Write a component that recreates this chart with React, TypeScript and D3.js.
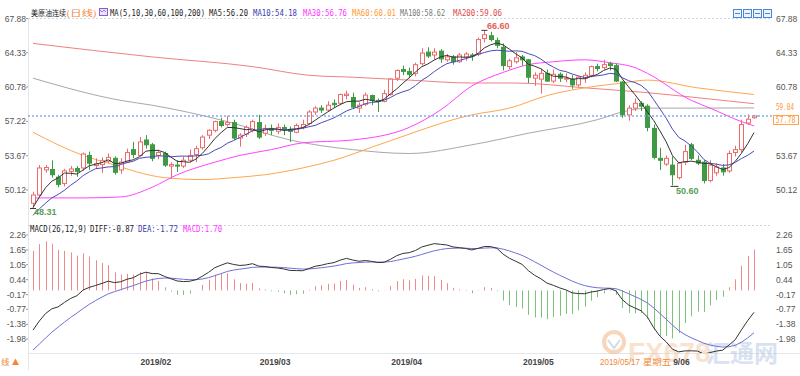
import React from 'react';
import * as d3 from 'd3';

// ---------- candle data (美原油连续, daily) ----------
const opens = [
  48.75, 49.6, 52.2, 52.25, 51.45, 50.8, 52.05, 52.35, 52.4, 53.7,
  52.65, 52.75, 53.1, 53.4, 52.2, 53.0, 54.3, 53.7, 55.3, 54.8,
  53.7, 53.9, 52.6, 52.7, 52.6, 53.2, 53.8, 54.5, 55.8, 56.3,
  57.2, 56.9, 57.1, 55.5, 55.9, 56.3, 57.1, 56.0, 56.5, 56.2,
  56.6, 56.4, 56.1, 56.6, 57.0, 58.2, 58.6, 58.4, 59.1, 59.1,
  59.9, 59.7, 58.6, 59.0, 59.9, 59.4, 59.3, 60.0, 61.7, 62.6,
  62.4, 62.2, 63.2, 64.4, 64.1, 64.5, 63.6, 63.9, 63.4, 63.9,
  64.1, 64.2, 65.8, 66.1, 65.6, 64.9, 62.9, 63.4, 63.9, 63.6,
  61.7, 61.6, 62.2, 61.4, 62.1, 61.6, 61.6, 61.0, 61.7, 62.0,
  62.9, 62.8, 63.2, 63.0, 61.3, 57.9, 58.6, 59.1, 58.8, 56.5,
  53.4, 52.8, 52.7, 51.4, 53.0, 54.8, 53.2, 53.0, 51.1, 51.9,
  52.4, 52.1, 54.0, 54.3, 57.05, 57.6,
];
const highs = [
  49.95, 52.7, 52.7, 53.2, 51.7, 52.3, 52.6, 52.6, 54.0, 54.1,
  53.4, 53.5, 53.9, 53.6, 53.4, 54.4, 55.1, 55.6, 55.8, 55.0,
  54.3, 54.1, 53.0, 53.2, 53.6, 54.3, 54.7, 55.8, 56.4, 57.3,
  57.6, 57.8, 57.4, 56.0, 56.8, 57.4, 57.9, 56.9, 56.9, 57.0,
  56.9, 56.7, 57.0, 57.4, 58.4, 58.8, 58.9, 59.3, 59.5, 60.1,
  60.4, 60.2, 59.2, 60.2, 60.0, 59.6, 60.5, 61.7, 62.6, 63.0,
  62.8, 63.3, 64.8, 64.9, 64.8, 64.7, 64.2, 64.1, 64.3, 64.4,
  64.3, 65.9, 66.6, 66.5, 65.9, 65.3, 63.7, 64.4, 64.1, 63.7,
  62.3, 62.7, 62.6, 62.6, 62.3, 62.2, 62.0, 61.9, 62.3, 63.0,
  63.2, 63.6, 63.4, 63.2, 61.4, 58.9, 59.6, 59.3, 59.0, 56.9,
  54.5, 53.7, 53.6, 53.0, 54.8, 55.0, 53.7, 53.2, 53.2, 52.9,
  52.8, 54.2, 54.7, 57.4, 57.95, 57.9,
];
const lows = [
  48.31, 49.5, 51.9, 51.4, 50.4, 50.5, 51.6, 51.5, 52.1, 52.2,
  52.3, 51.9, 52.9, 51.7, 51.8, 52.9, 53.4, 53.6, 54.4, 53.1,
  53.3, 52.5, 51.3, 52.0, 52.4, 53.0, 53.0, 54.3, 55.4, 56.1,
  56.6, 56.7, 55.3, 54.6, 55.6, 56.1, 55.4, 55.7, 55.8, 55.9,
  55.8, 55.1, 56.0, 56.4, 56.9, 57.9, 58.1, 58.3, 58.6, 58.9,
  59.5, 58.5, 58.1, 58.8, 58.9, 58.2, 59.2, 59.9, 61.4, 62.0,
  61.7, 61.9, 63.0, 63.8, 63.6, 63.3, 63.4, 63.1, 63.3, 63.5,
  63.5, 64.0, 65.4, 65.5, 64.8, 62.5, 62.6, 63.2, 63.0, 61.2,
  60.9, 60.1, 61.3, 61.2, 61.3, 61.3, 60.6, 60.8, 61.2, 61.8,
  62.4, 62.6, 62.5, 61.3, 57.6, 57.3, 58.3, 58.3, 56.2, 53.3,
  52.2, 52.6, 50.6, 51.2, 52.7, 53.2, 52.7, 50.8, 50.9, 51.6,
  51.6, 51.9, 53.6, 54.0, 56.85, 57.5,
];
const closes = [
  49.6, 52.4, 52.45, 51.7, 50.7, 52.1, 52.3, 52.05, 53.85, 52.9,
  52.85, 53.15, 53.5, 51.95, 53.0, 54.0, 53.8, 55.1, 54.8, 53.4,
  54.0, 52.7, 52.75, 52.6, 53.2, 53.7, 54.4, 55.6, 56.3, 57.2,
  56.8, 57.1, 55.5, 55.8, 56.6, 57.2, 55.6, 56.5, 56.3, 56.6,
  56.4, 56.2, 56.8, 56.9, 58.2, 58.6, 58.4, 58.9, 58.95, 60.0,
  60.05, 58.7, 58.9, 59.95, 59.4, 59.3, 60.1, 61.6, 62.5, 62.4,
  62.1, 63.1, 64.3, 64.0, 64.4, 63.7, 63.9, 63.4, 64.1, 64.2,
  64.0, 65.7, 66.2, 65.7, 65.1, 63.0, 63.5, 63.8, 63.6, 61.8,
  62.0, 62.2, 61.4, 62.1, 61.7, 61.7, 61.0, 61.8, 62.0, 62.9,
  62.7, 63.1, 63.0, 61.4, 57.9, 58.6, 59.1, 58.8, 56.6, 53.5,
  53.2, 53.4, 51.7, 52.9, 54.1, 53.4, 52.9, 51.1, 52.7, 52.5,
  52.0, 53.9, 54.3, 56.9, 57.45, 57.78,
];
// closes just before the first visible candle (feed MA5 / MA10)
const prevCloses = [45.8, 46.5, 46.2, 47.2, 47.8, 47.0, 47.6, 48.3, 49.0];
// EMA12, EMA26, DEA state before the first visible candle
const macdSeed = [49.22, 51.0, -2.63];

// longer moving averages (candle index -> value)
const ma30Idx = [0, 8, 14, 19, 23, 29, 33, 38, 43, 51, 60, 65, 70, 75, 79, 83, 88, 92, 96, 98, 105, 108, 113, 115];
const ma30Val = [49.3, 49.3, 49.4, 50.4, 51.7, 53.0, 53.7, 54.3, 55.0, 55.3, 56.6, 58.4, 60.9, 62.3, 63.1, 63.4, 63.6, 63.3, 62.8, 62.2, 59.4, 58.6, 57.2, 56.76];
const ma60Idx = [0, 8, 12, 21, 27, 32, 37, 43, 48, 56, 70, 76, 82, 89, 94, 98, 106, 115];
const ma60Val = [56.1, 53.7, 52.9, 51.4, 51.2, 51.4, 51.7, 52.4, 53.2, 55.0, 57.9, 58.6, 59.9, 60.8, 61.2, 61.5, 60.7, 60.01];
const ma100Idx = [0, 14, 19, 31, 41, 51, 60, 70, 79, 90, 94, 98, 106, 115];
const ma100Val = [61.7, 59.4, 58.9, 57.2, 55.3, 54.3, 53.9, 54.8, 56.0, 57.4, 58.2, 58.6, 58.6, 58.62];
const ma200Idx = [0, 19, 35, 44, 51, 60, 70, 77, 88, 98, 110, 115];
const ma200Val = [65.3, 63.9, 62.9, 62.0, 61.8, 61.5, 61.2, 61.2, 60.7, 60.2, 59.4, 59.06];

// axes
const priceTicks = [67.88, 64.33, 60.78, 57.22, 53.67, 50.12];
const macdTicks = [2.26, 1.65, 1.05, 0.44, -0.17, -0.77, -1.38, -1.98];
const monthLabels = ['2019/02', '2019/03', '2019/04', '2019/05', '2019/06'];
const monthIdx = [17, 36, 57, 78, 100];
const lastPrice = 57.78;

const legendItems = [
  { t: 'MA5:56.20', x: 209, w: 39, c: '#222222' },
  { t: 'MA10:54.18', x: 253, w: 44, c: '#3a3ab0' },
  { t: 'MA30:56.76', x: 303, w: 44, c: '#ff33ff' },
  { t: 'MA60:60.01', x: 352, w: 44, c: '#ff9933' },
  { t: 'MA100:58.62', x: 400, w: 45, c: '#777777' },
  { t: 'MA200:59.06', x: 453, w: 49, c: '#e04848' },
];
const macdLegend = [
  { t: 'MACD(26,12,9)', x: 30, w: 57, c: '#222222' },
  { t: 'DIFF:-0.87', x: 90, w: 44, c: '#222222' },
  { t: 'DEA:-1.72', x: 138, w: 40, c: '#3a3ab0' },
  { t: 'MACD:1.70', x: 183, w: 39, c: '#ff33ff' },
];

const UP = '#ee6a6a';
const DOWN = '#3f9a44';

export default function App() {
  const x = d3.scaleLinear().domain([0, 115]).range([33, 754]);
  const yP = d3.scaleLinear().domain([50.12, 67.88]).range([190, 18.5]);
  const yM = d3.scaleLinear().domain([-1.98, 2.26]).range([339, 235]);

  const all = prevCloses.concat(closes);
  const off = prevCloses.length;
  const ma = (k: number) =>
    closes.map((_, i) => d3.mean(all.slice(i + off - k + 1, i + off + 1)) as number);
  const ma5 = ma(5);
  const ma10 = ma(10);

  let e12 = macdSeed[0], e26 = macdSeed[1], dea = macdSeed[2];
  const macd = closes.map((c) => {
    e12 = e12 + (2 / 13) * (c - e12);
    e26 = e26 + (2 / 27) * (c - e26);
    const diff = e12 - e26;
    dea = dea + 0.2 * (diff - dea);
    return { diff, dea, bar: 2 * (diff - dea) };
  });

  const lineP = d3.line<number>().x((_, i) => x(i)).y((v) => yP(v));
  const sampled = (idx: number[], vals: number[]) =>
    d3.line<number>().x((_, j) => x(idx[j])).y((v) => yP(v)).curve(d3.curveMonotoneX)(vals) as string;
  const lineDiff = d3.line<any>().x((_, i) => x(i)).y((d) => yM(d.diff));
  const lineDea = d3.line<any>().x((_, i) => x(i)).y((d) => yM(d.dea));

  const mono = "'DejaVu Sans Mono', 'Liberation Mono', monospace";
  const sans = "'Liberation Sans', Arial, sans-serif";
  const cjk = "'Noto Sans CJK SC', sans-serif";
  const yLast = yP(lastPrice);

  return (
    <svg width={800} height={376} style={{ position: 'absolute', left: 0, top: 0, background: '#fff' }}
      xmlns="http://www.w3.org/2000/svg">
      <defs>
        <clipPath id="pclip"><rect x={28} y={18} width={730} height={206} /></clipPath>
        <clipPath id="mclip"><rect x={28} y={226} width={730} height={127} /></clipPath>
        <clipPath id="jclip"><rect x={673} y={350} width={40} height={20} /></clipPath>
      </defs>

      {/* frame / grid */}
      <line x1={28.5} x2={28.5} y1={18} y2={370} stroke="#e3e6ea" />
      <line x1={28} x2={772} y1={18.5} y2={18.5} stroke="#c9d6e6" strokeDasharray="2,2" />
      <line x1={28} x2={772} y1={225.5} y2={225.5} stroke="#c9d6e6" strokeDasharray="2,2" />
      <line x1={28} x2={800} y1={353.5} y2={353.5} stroke="#e3e6ea" />

      {/* watermark */}
      <g opacity={0.45}>
        <circle cx={614} cy={342} r={10} fill="none" stroke="#f2a66a" strokeWidth={4} />
        <path d="M608,340 l6,8 l6,-8" fill="none" stroke="#9ab0cf" strokeWidth={2} />
        <text x={628} y={362} fontFamily={sans} fontSize={28} fontWeight="bold" fill="#f4c393">FX678</text>
        <text x={706} y={362} fontFamily={cjk} fontSize={24} fontWeight="bold" fill="#a9bfe0">汇通网</text>
      </g>

      {/* price panel */}
      <g clipPath="url(#pclip)">
        <path d={sampled(ma200Idx, ma200Val)} fill="none" stroke="#ef8080" strokeWidth={1} />
        <path d={sampled(ma100Idx, ma100Val)} fill="none" stroke="#a8a8a8" strokeWidth={1} />
        <path d={sampled(ma60Idx, ma60Val)} fill="none" stroke="#ffa54d" strokeWidth={1} />
        <path d={sampled(ma30Idx, ma30Val)} fill="none" stroke="#ff44ff" strokeWidth={1} />
        {closes.map((c, i) => {
          const o = opens[i];
          const up = c >= o;
          const cx = Math.round(x(i)) + 0.5;
          const top = yP(Math.max(o, c));
          const bot = yP(Math.min(o, c));
          const col = up ? UP : DOWN;
          return (
            <g key={i}>
              <line x1={cx} x2={cx} y1={yP(highs[i])} y2={yP(lows[i])} stroke={col} />
              <rect x={cx - 2} y={top} width={4} height={Math.max(bot - top, 1)}
                fill={up ? '#ffffff' : DOWN} stroke={col} strokeWidth={1} />
            </g>
          );
        })}
        <path d={lineP(ma10) as string} fill="none" stroke="#4a4ab8" strokeWidth={1} />
        <path d={lineP(ma5) as string} fill="none" stroke="#333333" strokeWidth={1} />
        <line x1={28} x2={772} y1={yLast} y2={yLast} stroke="#7fb0ee" strokeWidth={1.5} strokeDasharray="2,2" />
      </g>
      <line x1={758} x2={772} y1={yLast} y2={yLast} stroke="#7fb0ee" strokeWidth={1.5} strokeDasharray="2,2" />

      {/* high / low markers */}
      <line x1={x(72) - 3} x2={x(72) + 3} y1={yP(66.6) - 0.5} y2={yP(66.6) - 0.5} stroke="#333" />
      <text x={487} y={29} fontFamily={sans} fontSize={9} fontWeight="bold" fill="#e2625d">66.60</text>
      <line x1={x(102) - 2} x2={x(102) + 6} y1={yP(50.6) + 1} y2={yP(50.6) + 1} stroke="#333" />
      <text x={676} y={194} fontFamily={sans} fontSize={9} fontWeight="bold" fill="#5a9e5a">50.60</text>
      <line x1={x(0) - 3} x2={x(0) + 3} y1={yP(48.31) + 1} y2={yP(48.31) + 1} stroke="#333" />
      <text x={34} y={215} fontFamily={sans} fontSize={9} fontWeight="bold" fill="#5a9e5a">48.31</text>

      {/* price axes (the right 57.22 sits under the last-price box) */}
      {priceTicks.map((t, i) => (
        <g key={i}>
          {Math.abs(yP(t) - yLast) > 8 && (
            <text x={776} y={yP(t) + 3} fontFamily={sans} fontSize={8.5} fill="#555">{t.toFixed(2)}</text>
          )}
          <text x={26} y={yP(t) + 3} fontFamily={sans} fontSize={8.5} fill="#555" textAnchor="end">{t.toFixed(2)}</text>
          <line x1={26} x2={28} y1={yP(t)} y2={yP(t)} stroke="#999" />
        </g>
      ))}
      <text x={776} y={110} fontFamily={mono} fontSize={8} fill="#ff9933" textLength={18} lengthAdjust="spacingAndGlyphs">59.04</text>
      <rect x={773.5} y={115.5} width={25} height={9} fill="#fff" stroke="#ffa54d" />
      <text x={775.5} y={123} fontFamily={mono} fontSize={8} fill="#ff9933" textLength={20} lengthAdjust="spacingAndGlyphs">{lastPrice.toFixed(2)}</text>

      {/* top legend */}
      <text x={31} y={16} fontFamily={cjk} fontSize={8} fill="#222" textLength={35} lengthAdjust="spacingAndGlyphs">美原油连续</text>
      <text x={66} y={16} fontFamily={cjk} fontSize={8} fill="#f08a3a" textLength={31} lengthAdjust="spacingAndGlyphs">(日线)</text>
      <rect x={99.5} y={8.5} width={8} height={7} fill="#e8e4ff" stroke="#8a5ad8" />
      <path d="M100,10 l2,2 l2,-2 l2,2" fill="none" stroke="#8a5ad8" strokeWidth={0.8} />
      <text x={110} y={16} fontFamily={mono} fontSize={8.5} fill="#222" textLength={95} lengthAdjust="spacingAndGlyphs">MA(5,10,30,60,100,200)</text>
      {legendItems.map((l, i) => (
        <text key={i} x={l.x} y={16} fontFamily={mono} fontSize={8.5} fill={l.c} textLength={l.w} lengthAdjust="spacingAndGlyphs">{l.t}</text>
      ))}
      {[733, 743, 753, 763].map((ix, i) => (
        <g key={i}>
          <rect x={ix + 0.5} y={9.5} width={8} height={8} fill="#eef4ff" stroke="#4a86d6" />
          <line x1={ix + 2} x2={ix + 7} y1={13.5} y2={13.5} stroke="#4a86d6" />
        </g>
      ))}

      {/* MACD panel */}
      <g clipPath="url(#mclip)">
        {macd.map((d, i) => (
          <line key={i} x1={Math.round(x(i)) + 0.5} x2={Math.round(x(i)) + 0.5} y1={yM(0)} y2={yM(d.bar)}
            stroke={d.bar >= 0 ? '#f08a8a' : '#7cc27c'} strokeWidth={1} />
        ))}
        <path d={lineDea(macd) as string} fill="none" stroke="#7070d8" strokeWidth={1} />
        <path d={lineDiff(macd) as string} fill="none" stroke="#333333" strokeWidth={1} />
      </g>
      {macdLegend.map((l, i) => (
        <text key={i} x={l.x} y={232} fontFamily={mono} fontSize={8.5} fill={l.c} textLength={l.w} lengthAdjust="spacingAndGlyphs">{l.t}</text>
      ))}
      {macdTicks.map((t, i) => (
        <g key={i}>
          <text x={776} y={yM(t) + 3} fontFamily={sans} fontSize={8.5} fill="#555">{t.toFixed(2)}</text>
          <text x={26} y={yM(t) + 3} fontFamily={sans} fontSize={8.5} fill="#555" textAnchor="end">{t.toFixed(2)}</text>
          <line x1={26} x2={28} y1={yM(t)} y2={yM(t)} stroke="#999" />
        </g>
      ))}

      {/* date axis */}
      {monthLabels.slice(0, 4).map((m, i) => (
        <text key={i} x={x(monthIdx[i]) + 1} y={365} fontFamily={sans} fontSize={8.5} fontWeight="bold" fill="#444">{m}</text>
      ))}
      <g clipPath="url(#jclip)">
        <text x={x(monthIdx[4]) - 1} y={365} fontFamily={sans} fontSize={8.5} fontWeight="bold" fill="#444">{monthLabels[4]}</text>
      </g>
      <text x={600} y={365} fontFamily={sans} fontSize={8.5} fill="#f08a3a" textLength={40} lengthAdjust="spacingAndGlyphs">2019/05/17</text>
      <text x={643} y={365} fontFamily={cjk} fontSize={8.5} fill="#f08a3a" textLength={28} lengthAdjust="spacingAndGlyphs">星期五</text>
      <text x={1} y={365} fontFamily={cjk} fontSize={8.5} fill="#f08a3a">线</text>
      <path d="M12,365 L15.5,358.5 L19,365 Z" fill="#f08a3a" />
    </svg>
  );
}
